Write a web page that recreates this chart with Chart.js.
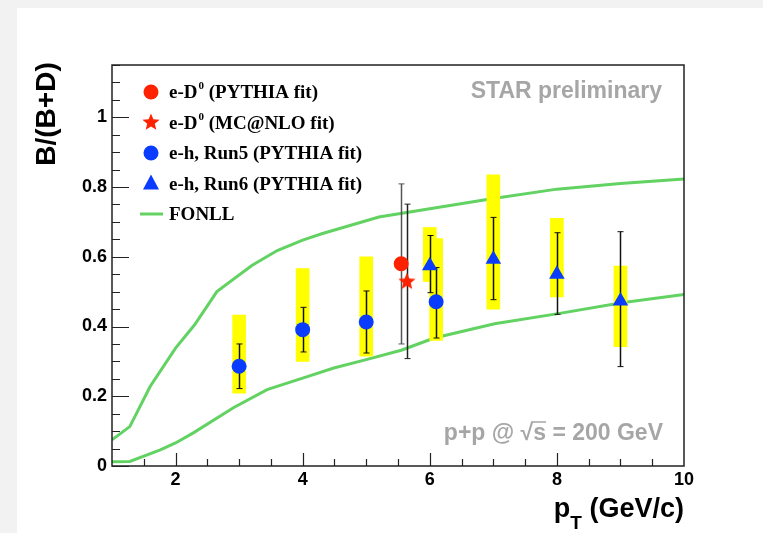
<!DOCTYPE html>
<html>
<head>
<meta charset="utf-8">
<script src="https://cdn.jsdelivr.net/npm/chart.js@4.4.1/dist/chart.umd.min.js"></script>
<style>
  body { margin: 0; background: #f2f2f2; width: 763px; height: 533px; overflow: hidden; }
  #panel { position: absolute; left: 17px; top: 8px; width: 746px; height: 525px; background: #fff; }
  #chart { position: absolute; left: 0; top: 0; }
</style>
</head>
<body>
<div id="panel"></div>
<canvas id="chart" width="763" height="533"></canvas>
<script>
// e-h Run5 (PYTHIA fit)
const ptRun5 = [3, 4, 5, 6.1];
const valRun5 = [0.286, 0.391, 0.413, 0.471];
const errLoRun5 = [0.222, 0.327, 0.324, 0.367];
const errHiRun5 = [0.350, 0.455, 0.502, 0.569];
const sysLoRun5 = [0.209, 0.300, 0.315, 0.360];
const sysHiRun5 = [0.433, 0.566, 0.600, 0.652];

// e-h Run6 (PYTHIA fit)
const ptRun6 = [6, 7, 8, 9];
const valRun6 = [0.574, 0.593, 0.550, 0.473];
const errLoRun6 = [0.497, 0.477, 0.435, 0.285];
const errHiRun6 = [0.661, 0.713, 0.669, 0.672];
const sysLoRun6 = [0.529, 0.450, 0.485, 0.342];
const sysHiRun6 = [0.684, 0.835, 0.710, 0.573];

// e-D0
const ptD0Pythia = [5.55];
const valD0Pythia = [0.580];
const errLoD0Pythia = [0.350];
const errHiD0Pythia = [0.809];
const ptD0Mcnlo = [5.64];
const valD0Mcnlo = [0.530];
const errLoD0Mcnlo = [0.308];
const errHiD0Mcnlo = [0.751];

// FONLL band
const fonllUpX = [1, 1.28, 1.6, 2.0, 2.3, 2.65, 3.2, 3.6, 4.0, 4.3, 5.2, 6.0, 7.0, 8.0, 9.0, 10.0];
const fonllUpY = [0.075, 0.113, 0.228, 0.338, 0.405, 0.500, 0.575, 0.618, 0.648, 0.666, 0.714, 0.738, 0.767, 0.794, 0.810, 0.823];
const fonllLoX = [1, 1.28, 1.76, 2.0, 2.28, 2.91, 3.44, 4.0, 4.49, 5.0, 5.55, 6.07, 7.02, 8.02, 9.02, 10];
const fonllLoY = [0.012, 0.013, 0.046, 0.066, 0.095, 0.167, 0.219, 0.252, 0.281, 0.305, 0.332, 0.367, 0.408, 0.437, 0.468, 0.492];

const xTicks = [2, 4, 6, 8, 10];
const yTicks = [0, 0.2, 0.4, 0.6, 0.8, 1];

const RED = '#ff2200';
const BLUE = '#0a3cff';
const GREEN = '#62d262';
const YELLOW = '#ffff00';

function pts(xs, ys) {
    return xs.map((x, i) => ({ x: x, y: ys[i] }));
}
function boxes(xs, lo, hi) {
    return xs.map((x, i) => ({ x: x, y: [lo[i], hi[i]] }));
}

function starPath(ctx, cx, cy, R, r) {
    ctx.beginPath();
    for (let i = 0; i < 10; i++) {
        const a = -Math.PI / 2 + i * Math.PI / 5;
        const rad = i % 2 === 0 ? R : r;
        const px = cx + Math.cos(a) * rad;
        const py = cy + Math.sin(a) * rad;
        if (i === 0) ctx.moveTo(px, py); else ctx.lineTo(px, py);
    }
    ctx.closePath();
}

// image for the filled star marker
const starImg = document.createElement('canvas');
starImg.width = 18;
starImg.height = 18;
(function () {
    const c = starImg.getContext('2d');
    c.fillStyle = RED;
    starPath(c, 9, 9.5, 9, 4);
    c.fill();
})();

const errorSets = [
    { x: ptRun5, lo: errLoRun5, hi: errHiRun5, color: '#111' },
    { x: ptRun6, lo: errLoRun6, hi: errHiRun6, color: '#111' },
    { x: ptD0Pythia, lo: errLoD0Pythia, hi: errHiD0Pythia, color: '#555' },
    { x: ptD0Mcnlo, lo: errLoD0Mcnlo, hi: errHiD0Mcnlo, color: '#222' }
];

const errorBars = {
    id: 'errorBars',
    afterDatasetDraw(chart, args) {
        if (args.index !== 3) return;
        const ctx = chart.ctx;
        const xs = chart.scales.x, ys = chart.scales.y;
        ctx.save();
        errorSets.forEach(s => {
            ctx.strokeStyle = s.color;
            s.x.forEach((x, i) => {
                const px = Math.round(xs.getPixelForValue(x)) + 0.5;
                const top = ys.getPixelForValue(s.hi[i]);
                const bot = ys.getPixelForValue(s.lo[i]);
                ctx.lineWidth = 1.5;
                ctx.beginPath();
                ctx.moveTo(px, top);
                ctx.lineTo(px, bot);
                ctx.stroke();
                ctx.lineWidth = 1;
                ctx.beginPath();
                ctx.moveTo(px - 3, top);
                ctx.lineTo(px + 3, top);
                ctx.moveTo(px - 3, bot);
                ctx.lineTo(px + 3, bot);
                ctx.stroke();
            });
        });
        ctx.restore();
    }
};

const decorations = {
    id: 'decorations',
    afterDraw(chart) {
        const ctx = chart.ctx;
        const a = chart.chartArea;
        const xs = chart.scales.x, ys = chart.scales.y;
        ctx.save();

        // frame
        ctx.strokeStyle = '#222';
        ctx.lineWidth = 1.5;
        ctx.strokeRect(a.left, a.top, a.right - a.left, a.bottom - a.top);

        // ticks inside the frame
        ctx.lineWidth = 1.2;
        ctx.beginPath();
        for (let v = 0; v <= 1.151; v += 0.05) {
            const py = Math.round(ys.getPixelForValue(v)) + 0.5;
            const major = Math.abs(v / 0.2 - Math.round(v / 0.2)) < 1e-6;
            ctx.moveTo(a.left, py);
            ctx.lineTo(a.left + (major ? 17 : 8), py);
        }
        for (let v = 1.5; v < 10; v += 0.5) {
            const px = Math.round(xs.getPixelForValue(v)) + 0.5;
            const major = xTicks.includes(v);
            ctx.moveTo(px, a.bottom);
            ctx.lineTo(px, a.bottom - (major ? 13 : 7));
        }
        ctx.stroke();

        // legend
        const rows = [
            { main: 'e-D', sup: '0', rest: ' (PYTHIA fit)', m: 'circle', c: RED },
            { main: 'e-D', sup: '0', rest: ' (MC@NLO fit)', m: 'star', c: RED },
            { main: 'e-h, Run5 (PYTHIA fit)', sup: '', rest: '', m: 'circle', c: BLUE },
            { main: 'e-h, Run6 (PYTHIA fit)', sup: '', rest: '', m: 'triangle', c: BLUE },
            { main: 'FONLL', sup: '', rest: '', m: 'line', c: GREEN }
        ];
        const mx = 151, tx = 169;
        rows.forEach((r, i) => {
            const cy = 92 + i * 30.5;
            ctx.fillStyle = r.c;
            if (r.m === 'circle') {
                ctx.beginPath();
                ctx.arc(mx, cy, 7.5, 0, Math.PI * 2);
                ctx.fill();
            } else if (r.m === 'star') {
                starPath(ctx, mx, cy, 9, 4);
                ctx.fill();
            } else if (r.m === 'triangle') {
                ctx.beginPath();
                ctx.moveTo(mx, cy - 9);
                ctx.lineTo(mx + 8, cy + 6);
                ctx.lineTo(mx - 8, cy + 6);
                ctx.closePath();
                ctx.fill();
            } else {
                ctx.strokeStyle = r.c;
                ctx.lineWidth = 3;
                ctx.beginPath();
                ctx.moveTo(140, cy);
                ctx.lineTo(163, cy);
                ctx.stroke();
            }
            ctx.fillStyle = '#000';
            ctx.textAlign = 'left';
            ctx.textBaseline = 'alphabetic';
            ctx.font = 'bold 19px "Liberation Serif"';
            let x = tx;
            ctx.fillText(r.main, x, cy + 6);
            x += ctx.measureText(r.main).width;
            if (r.sup) {
                ctx.font = 'bold 11px "Liberation Serif"';
                ctx.fillText(r.sup, x + 1, cy - 3);
                x += ctx.measureText(r.sup).width + 1;
                ctx.font = 'bold 19px "Liberation Serif"';
                ctx.fillText(r.rest, x, cy + 6);
            }
        });

        // gray annotations
        ctx.fillStyle = '#a6a6a6';
        ctx.font = 'bold 23px "Liberation Sans"';
        ctx.textAlign = 'right';
        ctx.fillText('STAR preliminary', 662, 98);

        const parts = ['p+p @ ', '\u221A', 's', ' = 200 GeV'];
        const widths = parts.map(p => ctx.measureText(p).width);
        let sx = 663 - widths.reduce((s, w) => s + w, 0);
        ctx.textAlign = 'left';
        parts.forEach((p, i) => {
            ctx.fillText(p, sx, 440);
            if (i === 2) {
                ctx.strokeStyle = '#a6a6a6';
                ctx.lineWidth = 1.5;
                ctx.beginPath();
                ctx.moveTo(sx - 2, 422);
                ctx.lineTo(sx + widths[i], 422);
                ctx.stroke();
            }
            sx += widths[i];
        });

        // axis titles
        ctx.fillStyle = '#000';
        ctx.font = 'bold 27px "Liberation Sans"';
        const t1 = ' (GeV/c)';
        const w1 = ctx.measureText(t1).width;
        const wp = ctx.measureText('p').width;
        ctx.font = 'bold 19px "Liberation Sans"';
        const wt = ctx.measureText('T').width;
        let x0 = 684 - w1 - wt - wp;
        ctx.font = 'bold 27px "Liberation Sans"';
        ctx.fillText('p', x0, 517);
        ctx.font = 'bold 19px "Liberation Sans"';
        ctx.fillText('T', x0 + wp, 529);
        ctx.font = 'bold 27px "Liberation Sans"';
        ctx.fillText(t1, x0 + wp + wt, 517);

        ctx.translate(47, 114);
        ctx.rotate(-Math.PI / 2);
        ctx.textAlign = 'center';
        ctx.textBaseline = 'middle';
        ctx.font = 'bold 28px "Liberation Sans"';
        ctx.fillText('B/(B+D)', 0, 0);

        ctx.restore();
    }
};

const tickFont = { family: '"Liberation Sans"', size: 18, weight: 'bold' };

new Chart(document.getElementById('chart'), {
    type: 'scatter',
    data: {
        datasets: [
            {
                type: 'line', label: 'FONLL', data: pts(fonllUpX, fonllUpY),
                borderColor: GREEN, borderWidth: 3, pointRadius: 0, tension: 0, order: 20
            },
            {
                type: 'line', label: 'FONLL low', data: pts(fonllLoX, fonllLoY),
                borderColor: GREEN, borderWidth: 3, pointRadius: 0, tension: 0, order: 19
            },
            {
                type: 'bar', label: 'sys Run5', data: boxes(ptRun5, sysLoRun5, sysHiRun5),
                backgroundColor: YELLOW, barThickness: 13, grouped: false, order: 11
            },
            {
                type: 'bar', label: 'sys Run6', data: boxes(ptRun6, sysLoRun6, sysHiRun6),
                backgroundColor: YELLOW, barThickness: 13, grouped: false, order: 10
            },
            {
                label: 'e-D0 (PYTHIA fit)', data: pts(ptD0Pythia, valD0Pythia),
                pointStyle: 'circle', pointRadius: 7.5, backgroundColor: RED, borderWidth: 0, order: 3
            },
            {
                label: 'e-D0 (MC@NLO fit)', data: pts(ptD0Mcnlo, valD0Mcnlo),
                pointStyle: starImg, backgroundColor: RED, order: 2
            },
            {
                label: 'e-h, Run5 (PYTHIA fit)', data: pts(ptRun5, valRun5),
                pointStyle: 'circle', pointRadius: 7.5, backgroundColor: BLUE, borderWidth: 0, order: 1
            },
            {
                label: 'e-h, Run6 (PYTHIA fit)', data: pts(ptRun6, valRun6),
                pointStyle: 'triangle', pointRadius: 9, backgroundColor: BLUE, borderWidth: 0, order: 0
            }
        ]
    },
    options: {
        responsive: false,
        animation: false,
        layout: { padding: { left: 0, top: 65, right: 79, bottom: 0 } },
        plugins: { legend: { display: false }, tooltip: { enabled: false } },
        scales: {
            x: {
                type: 'linear', min: 1, max: 10, offset: false,
                grid: { display: false, drawTicks: false }, border: { display: false },
                afterBuildTicks: (scale) => { scale.ticks = xTicks.map(v => ({ value: v })); },
                afterFit: (scale) => { scale.height = 67; },
                ticks: { font: tickFont, color: '#000', padding: 3, autoSkip: false, maxRotation: 0 }
            },
            y: {
                type: 'linear', min: 0, max: 1.15,
                grid: { display: false, drawTicks: false }, border: { display: false },
                afterBuildTicks: (scale) => { scale.ticks = yTicks.map(v => ({ value: v })); },
                afterFit: (scale) => { scale.width = 112; },
                ticks: { font: tickFont, color: '#000', padding: 5, autoSkip: false, callback: (v) => String(v) }
            }
        }
    },
    plugins: [errorBars, decorations]
});
</script>
</body>
</html>
